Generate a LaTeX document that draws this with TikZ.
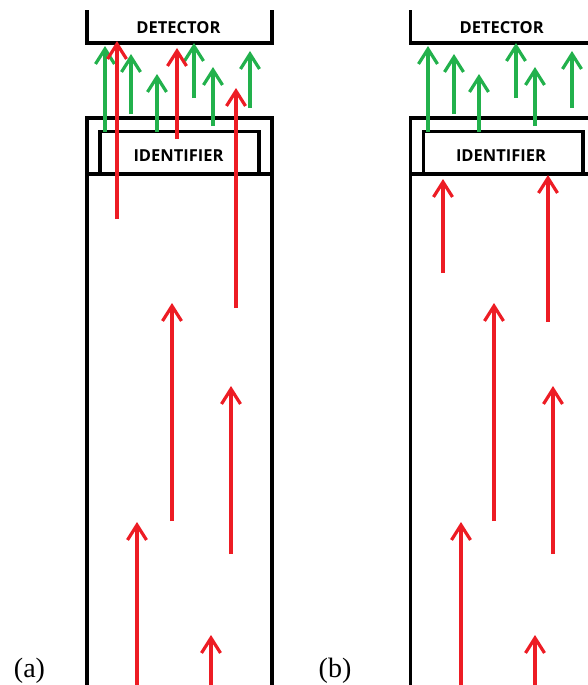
\documentclass[tikz,border=0pt]{standalone}
\usepackage{fontspec}
\setmainfont{Liberation Serif}
\newfontfamily\boxfont{Open Sans}
\usetikzlibrary{arrows.meta}
\definecolor{pred}{RGB}{237,28,36}
\definecolor{pgreen}{RGB}{34,177,76}
\tikzset{
  wall/.style={line width=3.2pt, black, line cap=rect, line join=miter},
  redarrow/.style={line width=3.2pt, pred, -{Straight Barb[length=15pt,width=19pt,line width=3.2pt]}},
  greenarrow/.style={line width=3.2pt, pgreen, -{Straight Barb[length=15pt,width=19pt,line width=3.2pt]}},
  boxlabel/.style={font=\boxfont\bfseries\fontsize{16.5}{16.5}\selectfont, inner sep=0pt},
  panellabel/.style={font=\fontsize{28}{28}\selectfont, inner sep=0pt, anchor=base}
}
\begin{document}
\begin{tikzpicture}[x=1pt,y=-1pt]
\useasboundingbox (0,0) rectangle (588,685);
\clip (0,0) rectangle (588,685);
% ---------- panel (a) ----------
\begin{scope}
\draw[wall] (87,12) -- (87,43) -- (272,43) -- (272,12);
\draw[wall] (87,690) -- (87,118) -- (272,118) -- (272,690);
\draw[wall] (100,174) -- (100,131.5) -- (259,131.5) -- (259,174);
\draw[wall] (87,174) -- (272,174);
\node[boxlabel] (detA) at (178.5,28) {DETECTOR};
\node[boxlabel] (idA) at (178.5,156) {IDENTIFIER};
% green
\draw[greenarrow] (105,132) -- (105,46);
\draw[greenarrow] (131,114) -- (131,54);
\draw[greenarrow] (157,132) -- (157,74);
\draw[greenarrow] (194,98) -- (194,43);
\draw[greenarrow] (213,126) -- (213,67);
\draw[greenarrow] (250,108) -- (250,51);
% red
\draw[redarrow] (117,219) -- (117,41);
\draw[redarrow] (177,139) -- (177,48);
\draw[redarrow] (236,308) -- (236,88);
\draw[redarrow] (172,521) -- (172,303);
\draw[redarrow] (231,554) -- (231,386);
\draw[redarrow] (137,690) -- (137,522);
\draw[redarrow] (211,690) -- (211,635);
\node[panellabel] (la) at (29.5,677) {(a)};
\end{scope}
% ---------- panel (b) ----------
\begin{scope}
\draw[wall] (410.7,12) -- (410.7,43) -- (595.7,43) -- (595.7,12);
\draw[wall] (410.7,690) -- (410.7,118) -- (595.7,118) -- (595.7,690);
\draw[wall] (423.5,174) -- (423.5,131.5) -- (583,131.5) -- (583,174);
\draw[wall] (410.7,174) -- (595.7,174);
\node[boxlabel] (detB) at (501.7,28) {DETECTOR};
\node[boxlabel] (idB) at (501,156) {IDENTIFIER};
% green
\draw[greenarrow] (428,132) -- (428,46);
\draw[greenarrow] (454,114) -- (454,54);
\draw[greenarrow] (479,132) -- (479,74);
\draw[greenarrow] (516,98) -- (516,43);
\draw[greenarrow] (535,126) -- (535,67);
\draw[greenarrow] (572,108) -- (572,51);
% red
\draw[redarrow] (443,273) -- (443,179);
\draw[redarrow] (548,322) -- (548,175);
\draw[redarrow] (494,521) -- (494,303);
\draw[redarrow] (553,554) -- (553,386);
\draw[redarrow] (461,690) -- (461,522);
\draw[redarrow] (535,690) -- (535,635);
\node[panellabel] (lb) at (335,677) {(b)};
\end{scope}
\end{tikzpicture}
\end{document}
